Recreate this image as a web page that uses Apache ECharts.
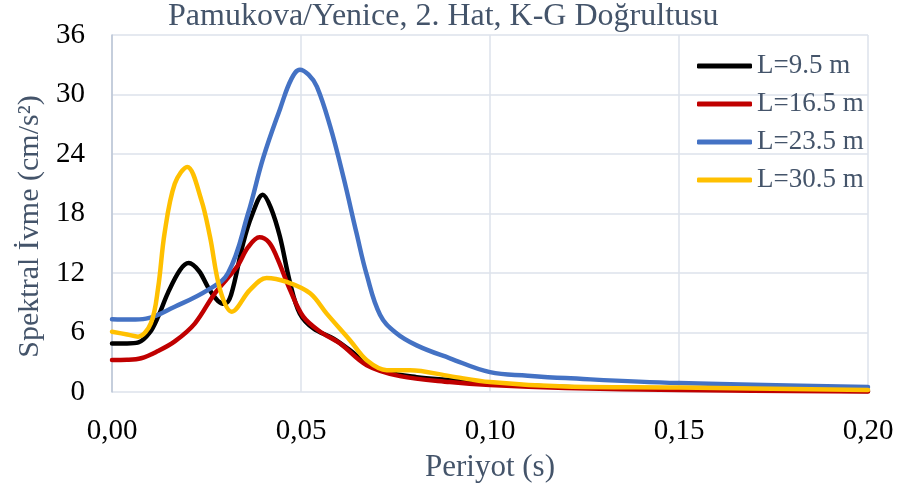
<!DOCTYPE html>
<html>
<head>
<meta charset="utf-8">
<script src="https://cdn.jsdelivr.net/npm/echarts@6/dist/echarts.min.js"></script>
<style>
html,body{margin:0;padding:0;background:#fff;}
#chart{width:901px;height:499px;}
</style>
</head>
<body>
<div id="chart"></div>
<script>
// ---- data ----
const seriesNames = ['L=9.5 m', 'L=16.5 m', 'L=23.5 m', 'L=30.5 m'];

const blackT = [0, 0.004, 0.007, 0.010, 0.0122, 0.0148, 0.018, 0.0203, 0.023, 0.0255, 0.028, 0.0298, 0.0315, 0.0347, 0.037, 0.0399, 0.042, 0.0444, 0.0471, 0.0497, 0.0533, 0.0585, 0.063, 0.0674, 0.0727, 0.0806, 0.0894, 0.100, 0.120, 0.150, 0.200];
const blackV = [4.9, 4.9, 5.0, 6.0, 7.6, 10.0, 12.3, 13.0, 12.2, 10.5, 9.2, 8.9, 9.8, 15.0, 17.8, 19.9, 18.6, 15.7, 11.0, 7.9, 6.4, 5.4, 4.2, 2.9, 2.0, 1.5, 1.2, 0.85, 0.5, 0.3, 0.1];

const redT = [0, 0.004, 0.0077, 0.012, 0.0166, 0.0219, 0.0272, 0.033, 0.036, 0.039, 0.0415, 0.0436, 0.0471, 0.0506, 0.055, 0.0603, 0.0674, 0.0762, 0.0894, 0.100, 0.120, 0.150, 0.200];
const redV = [3.23, 3.25, 3.4, 4.1, 5.1, 6.9, 9.95, 12.6, 14.6, 15.6, 15.1, 13.6, 10.3, 7.6, 6.1, 4.9, 2.7, 1.6, 1.0, 0.7, 0.4, 0.2, 0.05];

const blueT = [0, 0.005, 0.009, 0.0166, 0.0254, 0.0307, 0.036, 0.040, 0.0445, 0.0475, 0.0497, 0.0520, 0.0542, 0.0577, 0.0612, 0.0647, 0.0674, 0.0709, 0.0750, 0.0806, 0.0894, 0.100, 0.110, 0.120, 0.150, 0.200];
const blueV = [7.33, 7.3, 7.4, 8.6, 10.3, 12.0, 18.0, 23.6, 28.6, 31.6, 32.5, 32.0, 30.8, 26.8, 21.7, 16.0, 11.8, 7.8, 6.0, 4.7, 3.4, 2.0, 1.65, 1.4, 0.9, 0.5];

const yellowT = [0, 0.004, 0.0069, 0.0103, 0.0122, 0.0139, 0.0166, 0.0199, 0.0236, 0.0259, 0.0286, 0.0317, 0.0365, 0.0409, 0.0462, 0.0524, 0.0568, 0.063, 0.0674, 0.0727, 0.0788, 0.0894, 0.100, 0.120, 0.150, 0.200];
const yellowV = [6.08, 5.8, 5.58, 6.95, 10.5, 16.0, 21.0, 22.7, 19.4, 15.7, 10.3, 8.1, 10.3, 11.5, 11.1, 9.95, 7.9, 5.2, 3.2, 2.2, 2.2, 1.6, 1.0, 0.55, 0.45, 0.2];

const titleText = 'Pamukova/Yenice, 2. Hat, K-G Doğrultusu';
const xName = 'Periyot (s)';
const yName = 'Spektral İvme (cm/s²)';

// ---- chart ----
const pair = (T, V) => T.map((t, i) => [t, V[i]]);
const FONT = "'Liberation Serif', 'Times New Roman', serif";
const TXT = '#44546A';
const GRID = '#DCE2EB';

const chart = echarts.init(document.getElementById('chart'), null, {renderer: 'canvas'});
const mk = (name, T, V, color, sm) => ({
  name, type: 'line', data: pair(T, V), smooth: sm, symbol: 'none',
  lineStyle: {color, width: 4.5, cap: 'round', join: 'round'}, itemStyle: {color}
});

chart.setOption({
  animation: false,
  backgroundColor: '#fff',
  title: {
    text: titleText, left: 168, top: 1, padding: 0,
    textStyle: {fontFamily: FONT, fontSize: 32, fontWeight: 'normal', color: TXT}
  },
  legend: {
    orient: 'vertical', left: 697, top: 51, padding: 0,
    icon: 'roundRect', itemWidth: 55, itemHeight: 5, itemGap: 8,
    textStyle: {fontFamily: FONT, fontSize: 27, color: TXT, lineHeight: 30, padding: [0,0,0,0]},
    data: seriesNames
  },
  grid: {left: 112, right: 33, top: 35, bottom: 107, containLabel: false},
  xAxis: {
    type: 'value', min: 0, max: 0.2, interval: 0.05,
    name: xName, nameLocation: 'middle', nameGap: 60,
    nameTextStyle: {fontFamily: FONT, fontSize: 31, color: TXT},
    axisLine: {show: false}, axisTick: {show: false},
    axisLabel: {fontFamily: FONT, fontSize: 29, color: '#000', margin: 25,
      formatter: v => v.toFixed(2).replace('.', ',')},
    splitLine: {show: true, lineStyle: {color: GRID, width: 1.5}}
  },
  yAxis: {
    type: 'value', min: 0, max: 36, interval: 6,
    name: yName, nameLocation: 'middle', nameGap: 64,
    nameTextStyle: {fontFamily: FONT, fontSize: 30, color: TXT, padding: [0, 26, 0, 0]},
    axisLine: {show: true, lineStyle: {color: '#BAC5D6', width: 1.5}}, axisTick: {show: false},
    axisLabel: {fontFamily: FONT, fontSize: 29, color: '#000', margin: 27},
    splitLine: {show: true, lineStyle: {color: GRID, width: 1.5}}
  },
  series: [
    mk(seriesNames[0], blackT, blackV, '#000000', 0.35),
    mk(seriesNames[1], redT, redV, '#C00000', 0.35),
    mk(seriesNames[2], blueT, blueV, '#4472C4', 0.4),
    mk(seriesNames[3], yellowT, yellowV, '#FFC000', 0.35)
  ]
});
</script>
</body>
</html>
